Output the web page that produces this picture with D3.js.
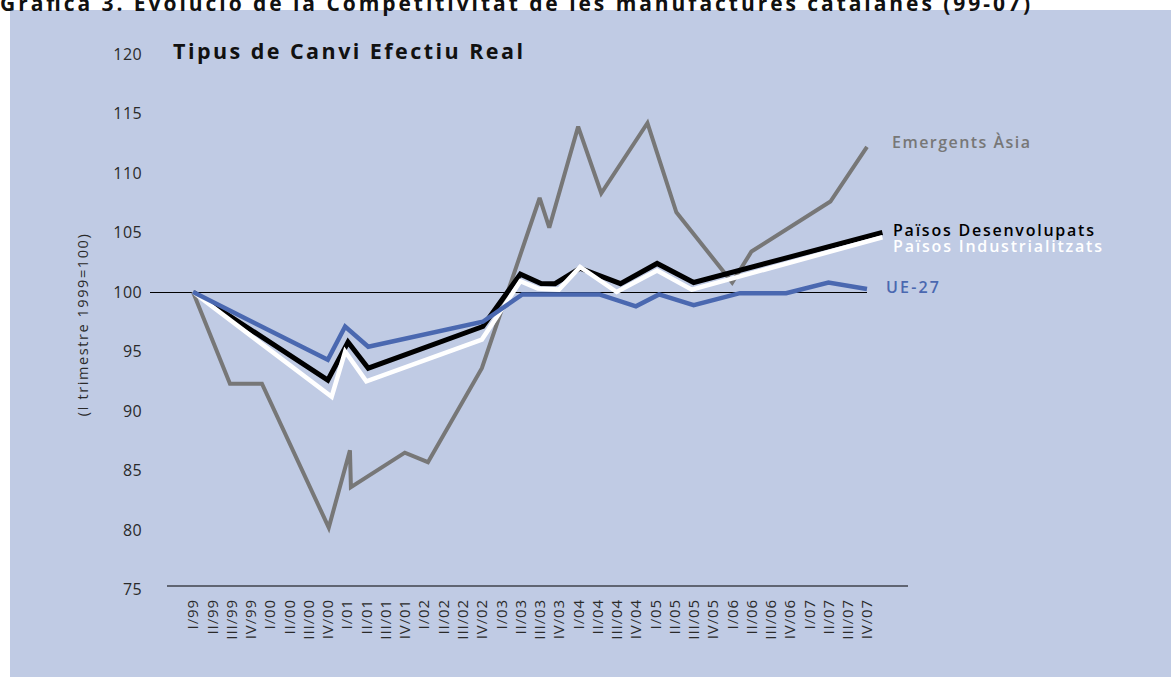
<!DOCTYPE html>
<html>
<head>
<meta charset="utf-8">
<script src="https://cdn.jsdelivr.net/npm/d3@7"></script>
<style>
    body { margin: 0; background: #fff; }
    svg { display: block; font-family: 'Open Sans', 'DejaVu Sans', sans-serif; }
</style>
</head>
<body>
<svg id="chart" width="1171" height="677"></svg>
<script>
(function() {
    'use strict';

    var quarters = ['I/99', 'II/99', 'III/99', 'IV/99', 'I/00', 'II/00', 'III/00', 'IV/00',
        'I/01', 'II/01', 'III/01', 'IV/01', 'I/02', 'II/02', 'III/02', 'IV/02',
        'I/03', 'II/03', 'III/03', 'IV/03', 'I/04', 'II/04', 'III/04', 'IV/04',
        'I/05', 'II/05', 'III/05', 'IV/05', 'I/06', 'II/06', 'III/06', 'IV/06',
        'I/07', 'II/07', 'III/07', 'IV/07'];

    var yTicks = [75, 80, 85, 90, 95, 100, 105, 110, 115, 120];

    // [quarter position, index value]; breaks fall between quarters in the source
    var emergentsAsia = [[0, 100], [1.92, 92.3], [3.58, 92.3], [7.05, 80.2], [8.15, 86.7], [8.2, 83.6],
        [11.0, 86.5], [12.2, 85.7], [15.0, 93.6], [18.0, 107.9], [18.5, 105.4], [20.0, 113.9],
        [21.2, 108.3], [23.6, 114.2], [25.1, 106.7], [28.0, 100.8], [29.0, 103.4], [33.1, 107.6],
        [35.0, 112.2]];

    var paisosDesenvolupats = [[0, 100], [7.0, 92.6], [8.05, 95.8], [9.1, 93.6], [15.05, 97.1],
        [17.0, 101.5], [18.1, 100.7], [18.8, 100.7], [20.1, 102.0], [22.2, 100.7], [24.1, 102.4],
        [26.0, 100.8], [35.8, 105.0]];

    var paisosIndustrialitzats = [[0, 100], [7.2, 91.2], [7.9, 95.0], [9.0, 92.5], [15.0, 96.0],
        [17.0, 100.9], [17.9, 100.3], [19.0, 100.2], [20.1, 102.1], [22.0, 100.0], [24.1, 101.8],
        [25.9, 100.2], [35.8, 104.6]];

    var ue27 = [[0, 100], [7.0, 94.3], [7.9, 97.1], [9.1, 95.4], [15.05, 97.5], [17.1, 99.8],
        [21.1, 99.8], [23.0, 98.8], [24.2, 99.8], [26.0, 98.9], [28.4, 99.9], [30.8, 99.9],
        [33.0, 100.8], [35.0, 100.25]];

    var series = [
        { name: 'Emergents Àsia', data: emergentsAsia, color: '#777777', width: 4, lx: 892, ly: 148, tl: 138 },
        { name: 'Països Desenvolupats', data: paisosDesenvolupats, color: '#000000', width: 5, lx: 893, ly: 236, tl: 201 },
        { name: 'Països Industrialitzats', data: paisosIndustrialitzats, color: '#ffffff', width: 4.5, lx: 893, ly: 252, tl: 209 },
        { name: 'UE-27', data: ue27, color: '#4a68b0', width: 4.5, lx: 886, ly: 293, tl: 53 }
    ];

    var svg = d3.select('#chart');

    var x = d3.scaleLinear().domain([0, quarters.length - 1]).range([193, 867]);
    var y = d3.scaleLinear().domain([75, 120]).range([589.5, 54]);

    svg.append('rect')
        .attr('x', 10).attr('y', 10)
        .attr('width', 1161).attr('height', 667)
        .attr('fill', '#c0cbe4');

    svg.append('text')
        .attr('x', 0).attr('y', 11)
        .attr('font-size', 21).attr('font-weight', 'bold')
        .attr('fill', '#111')
        .attr('textLength', 1030).attr('lengthAdjust', 'spacing')
        .text('Gràfica 3. Evolució de la Competitivitat de les manufactures catalanes (99-07)');

    svg.append('text')
        .attr('x', 173).attr('y', 59)
        .attr('font-size', 21.5).attr('font-weight', 'bold')
        .attr('fill', '#111')
        .attr('textLength', 350).attr('lengthAdjust', 'spacing')
        .text('Tipus de Canvi Efectiu Real');

    // y tick labels
    svg.append('g')
        .selectAll('text')
        .data(yTicks)
        .enter().append('text')
        .attr('x', 142)
        .attr('y', function(d) { return y(d); })
        .attr('dy', '0.35em')
        .attr('text-anchor', 'end')
        .attr('font-size', 16)
        .attr('letter-spacing', 0.4)
        .attr('fill', '#2a2a2a')
        .text(function(d) { return d; });

    svg.append('text')
        .attr('transform', 'translate(83,' + y(97.2) + ') rotate(-90)')
        .attr('dy', '0.35em')
        .attr('text-anchor', 'middle')
        .attr('font-size', 14.5)
        .attr('fill', '#2a2a2a')
        .attr('textLength', 182).attr('lengthAdjust', 'spacing')
        .text('(I trimestre 1999=100)');

    // x axis line and quarter labels
    svg.append('line')
        .attr('x1', 167).attr('x2', 908)
        .attr('y1', y(75) - 3.5).attr('y2', y(75) - 3.5)
        .attr('stroke', '#000').attr('stroke-width', 1.2);

    svg.append('g')
        .selectAll('text')
        .data(quarters)
        .enter().append('text')
        .attr('transform', function(d, i) { return 'translate(' + x(i) + ',599) rotate(-90)'; })
        .attr('dy', '0.36em')
        .attr('text-anchor', 'end')
        .attr('font-size', 15)
        .attr('letter-spacing', 0.9)
        .attr('fill', '#2a2a2a')
        .text(function(d) { return d; });

    // base 100 line
    svg.append('line')
        .attr('x1', 150).attr('x2', x(quarters.length - 1))
        .attr('y1', y(100) + 0.5).attr('y2', y(100) + 0.5)
        .attr('stroke', '#000').attr('stroke-width', 1);

    var line = d3.line()
        .x(function(d) { return x(d[0]); })
        .y(function(d) { return y(d[1]); });

    svg.append('g')
        .selectAll('path')
        .data(series)
        .enter().append('path')
        .attr('d', function(d) { return line(d.data); })
        .attr('fill', 'none')
        .attr('stroke', function(d) { return d.color; })
        .attr('stroke-width', function(d) { return d.width; })
        .attr('stroke-linejoin', 'miter')
        .attr('stroke-miterlimit', 3);

    svg.append('g')
        .selectAll('text')
        .data(series)
        .enter().append('text')
        .attr('x', function(d) { return d.lx; })
        .attr('y', function(d) { return d.ly; })
        .attr('font-size', 16)
        .attr('font-weight', 600)
        .attr('fill', function(d) { return d.color; })
        .attr('textLength', function(d) { return d.tl; })
        .attr('lengthAdjust', 'spacing')
        .text(function(d) { return d.name; });
}());
</script>
</body>
</html>
